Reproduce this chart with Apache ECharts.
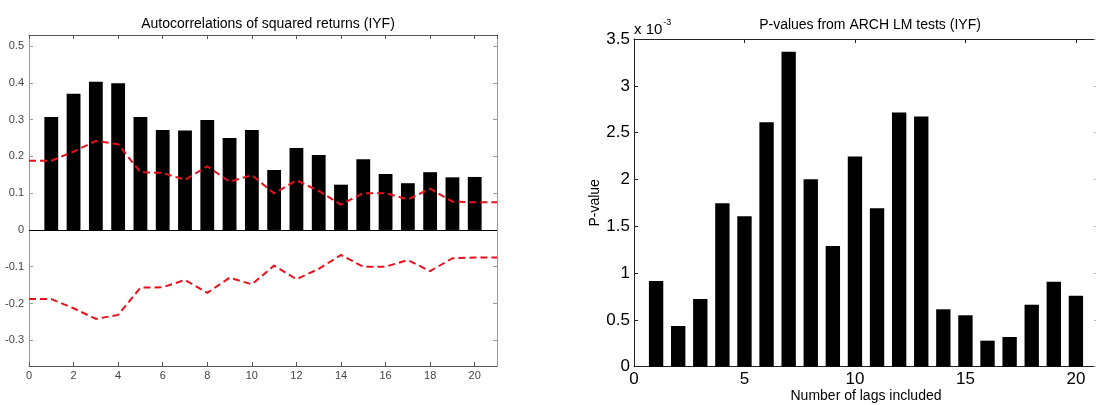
<!DOCTYPE html>
<html>
<head>
<meta charset="utf-8">
<script src="https://cdn.jsdelivr.net/npm/echarts@6/dist/echarts.min.js"></script>
<style>
html,body{margin:0;padding:0;background:#fff;}
#chart{width:1096px;height:405px;}
</style>
</head>
<body>
<div id="chart"></div>
<script>
// ---- data ----
var lags = [1,2,3,4,5,6,7,8,9,10,11,12,13,14,15,16,17,18,19,20];
var acfSquared = [0.307,0.370,0.403,0.399,0.307,0.272,0.270,0.299,0.250,0.272,0.163,0.223,0.204,0.123,0.192,0.152,0.127,0.157,0.143,0.144];
var boundLags = [0,1,2,3,4,5,6,7,8,9,10,11,12,13,14,15,16,17,18,19,20,21];
var upperBound = [0.188,0.188,0.213,0.242,0.233,0.157,0.155,0.136,0.173,0.131,0.149,0.099,0.135,0.106,0.069,0.100,0.100,0.083,0.112,0.077,0.075,0.075];
var lowerBound = [-0.188,-0.188,-0.213,-0.242,-0.231,-0.157,-0.156,-0.136,-0.171,-0.130,-0.148,-0.097,-0.134,-0.106,-0.068,-0.100,-0.100,-0.082,-0.112,-0.077,-0.075,-0.075];
var pValuesE3 = [0.916,0.435,0.723,1.746,1.607,2.611,3.365,2.002,1.290,2.244,1.692,2.714,2.671,0.613,0.549,0.278,0.317,0.662,0.908,0.758];
var acfTicks = [-0.3,-0.2,-0.1,0,0.1,0.2,0.3,0.4,0.5];

function pairs(xs, ys){ return xs.map(function(x,i){ return [x, ys[i]]; }); }

var FONT = '"Liberation Sans", Arial, sans-serif';
var grayDark = '#555';
var grayLight = '#9a9a9a';

var chart = echarts.init(document.getElementById('chart'), null, {renderer:'canvas'});

var option = {
  animation: false,
  backgroundColor: '#fff',
  title: [
    {text: 'Autocorrelations of squared returns (IYF)', left: 263, top: 12, textAlign: 'center',
     textStyle: {fontFamily: FONT, fontSize: 14, fontWeight: 'normal', color: '#000'}},
    {text: 'P-values from ARCH LM tests (IYF)', left: 865, top: 13, textAlign: 'center',
     textStyle: {fontFamily: FONT, fontSize: 14, fontWeight: 'normal', color: '#000'}}
  ],
  graphic: [
    {type: 'text', left: 634, top: 18, style: {
      text: '{a|x 10}{b|-3}', fontFamily: FONT,
      rich: {a: {fontSize: 15, fontFamily: FONT, fill: '#000', verticalAlign: 'bottom'},
             b: {fontSize: 9, fontFamily: FONT, fill: '#000', verticalAlign: 'top', padding: [0,0,10,1]}}
    }}
  ],
  grid: [
    {left: 29, top: 35, width: 468, height: 331, containLabel: false, outerBoundsMode: 'none'},
    {left: 634, top: 39, width: 464, height: 327.7, containLabel: false, outerBoundsMode: 'none'}
  ],
  xAxis: [
    {gridIndex: 0, type: 'value', position: 'bottom', min: 0, max: 21, interval: 2,
     axisLine: {onZero: false, lineStyle: {color: grayDark, width: 1}},
     axisTick: {inside: true, length: 4, lineStyle: {color: grayDark}},
     axisLabel: {showMaxLabel: false, fontFamily: FONT, fontSize: 11, color: '#444', margin: 4},
     splitLine: {show: false}},
    {gridIndex: 0, type: 'value', position: 'top', min: 0, max: 21, interval: 2,
     axisLine: {onZero: false, lineStyle: {color: grayDark, width: 1}},
     axisTick: {inside: true, length: 4, lineStyle: {color: grayDark}},
     axisLabel: {show: false}, splitLine: {show: false}},
    {gridIndex: 1, type: 'value', position: 'bottom', min: 0, max: 21, interval: 5,
     name: 'Number of lags included', nameLocation: 'middle', nameGap: 22, nameMoveOverlap: false,
     nameTextStyle: {fontFamily: FONT, fontSize: 14, color: '#000'},
     axisLine: {onZero: false, lineStyle: {color: '#222', width: 1}},
     axisTick: {inside: true, length: 4, lineStyle: {color: '#222'}},
     axisLabel: {showMaxLabel: false, fontFamily: FONT, fontSize: 17, color: '#000', margin: 4},
     splitLine: {show: false}},
    {gridIndex: 1, type: 'value', position: 'top', min: 0, max: 21, interval: 5,
     axisLine: {onZero: false, lineStyle: {color: '#222', width: 1}},
     axisTick: {inside: true, length: 4, lineStyle: {color: '#222'}},
     axisLabel: {show: false}, splitLine: {show: false}}
  ],
  yAxis: [
    {gridIndex: 0, type: 'value', position: 'left', min: -0.37, max: 0.53,
     axisLine: {show: true, onZero: false, lineStyle: {color: grayLight, width: 1}},
     axisTick: {show: true, inside: true, length: 4, customValues: acfTicks, lineStyle: {color: grayLight}},
     axisLabel: {customValues: acfTicks, fontFamily: FONT, fontSize: 11, color: '#444', margin: 5},
     splitLine: {show: false}},
    {gridIndex: 0, type: 'value', position: 'right', min: -0.37, max: 0.53,
     axisLine: {show: true, onZero: false, lineStyle: {color: grayLight, width: 1}},
     axisTick: {show: true, inside: true, length: 4, customValues: acfTicks, lineStyle: {color: grayLight}},
     axisLabel: {show: false}, splitLine: {show: false}},
    {gridIndex: 1, type: 'value', position: 'left', min: 0, max: 3.5, interval: 0.5,
     name: 'P-value', nameLocation: 'middle', nameGap: 32, nameRotate: 90, nameMoveOverlap: false,
     nameTextStyle: {fontFamily: FONT, fontSize: 14, color: '#000'},
     axisLine: {show: true, onZero: false, lineStyle: {color: '#222', width: 1}},
     axisTick: {show: true, inside: true, length: 4, lineStyle: {color: '#222'}},
     axisLabel: {fontFamily: FONT, fontSize: 17, color: '#000', margin: 4},
     splitLine: {show: false}},
    {gridIndex: 1, type: 'value', position: 'right', min: 0, max: 3.5, interval: 0.5,
     axisLine: {show: true, onZero: false, lineStyle: {color: '#222', width: 1}},
     axisTick: {show: true, inside: true, length: 4, lineStyle: {color: '#bbb'}},
     axisLabel: {show: false}, splitLine: {show: false}}
  ],
  series: [
    {type: 'bar', xAxisIndex: 0, yAxisIndex: 0, data: pairs(lags, acfSquared), barWidth: '62%',
     itemStyle: {color: '#000'}, silent: true,
     markLine: {silent: true, symbol: ['none','none'], label: {show: false},
       lineStyle: {color: '#000', width: 1, type: 'solid'}, data: [{yAxis: 0}]}},
    {type: 'line', xAxisIndex: 0, yAxisIndex: 0, data: pairs(boundLags, upperBound), symbol: 'none',
     lineStyle: {color: '#e8101a', width: 2, type: [7,4]}, z: 5},
    {type: 'line', xAxisIndex: 0, yAxisIndex: 0, data: pairs(boundLags, lowerBound), symbol: 'none',
     lineStyle: {color: '#e8101a', width: 2, type: [7,4]}, z: 5},
    {type: 'bar', xAxisIndex: 2, yAxisIndex: 2, data: pairs(lags, pValuesE3), barWidth: '65%',
     itemStyle: {color: '#000'}, silent: true}
  ]
};
chart.setOption(option);
</script>
</body>
</html>
